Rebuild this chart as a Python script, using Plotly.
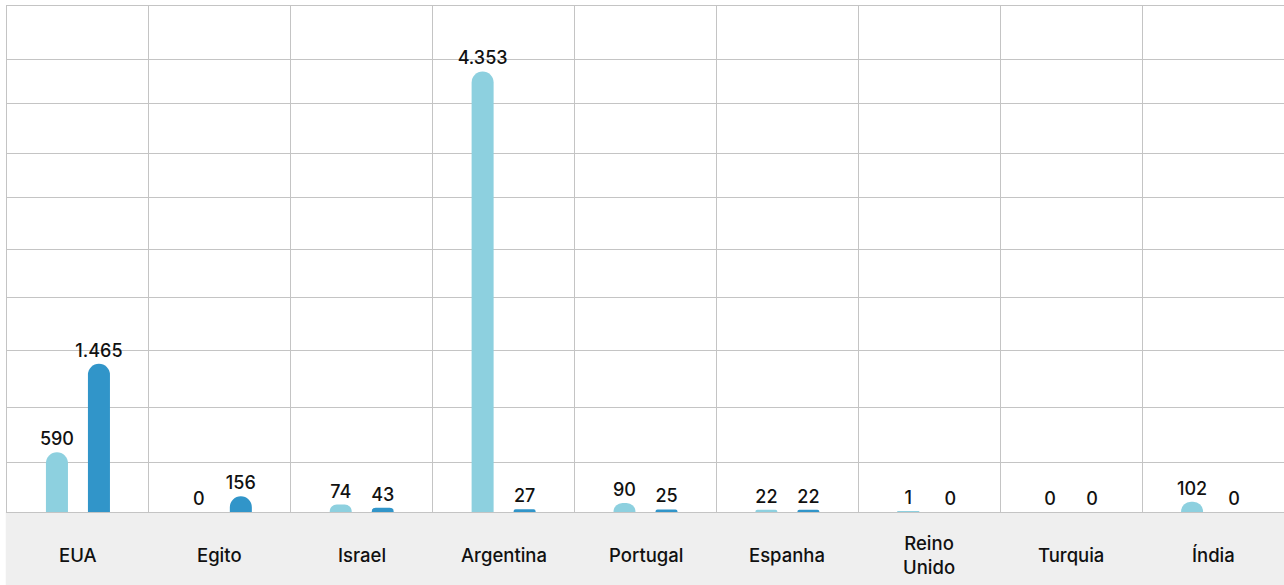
import plotly.graph_objects as go

# ---- data ----
categories = ["EUA", "Egito", "Israel", "Argentina", "Portugal", "Espanha",
              "Reino Unido", "Turquia", "Índia"]
category_labels = ["EUA", "Egito", "Israel", "Argentina", "Portugal", "Espanha",
                   "Reino<br>Unido", "Turquia", "Índia"]
serie_1 = [590, 0, 74, 4353, 90, 22, 1, 0, 102]
serie_2 = [1465, 156, 43, 27, 25, 22, 0, 0, 0]

# ---- styling ----
LIGHT = "#8DD0DF"
DARK = "#3195C9"
GRID = "#c4c4c4"
BAND = "#efefef"
TXT = "#111111"
FONT = "Inter"

y_max = 5000
grid_vals = [494, 1028, 1591, 2115, 2589, 3103, 3538, 4032, 4476]

fig = go.Figure()
for vals, color, name in [(serie_1, LIGHT, "Série 1"), (serie_2, DARK, "Série 2")]:
    fig.add_trace(go.Bar(
        x=categories, y=vals, name=name,
        marker=dict(color=color, cornerradius="50%", line=dict(width=0)),
        texttemplate="%{y:,}", textposition="outside", constraintext="none",
        cliponaxis=False,
        textfont=dict(family=FONT, size=18, color=TXT, weight=500),
        hoverinfo="skip",
    ))

# grey band below the baseline
fig.add_shape(type="rect", xref="paper", yref="paper",
              x0=-0.001, x1=1.0, y0=-73 / 506, y1=0,
              fillcolor=BAND, line=dict(width=0), layer="below")

for cat, lab in zip(categories, category_labels):
    fig.add_annotation(x=cat, xref="x", y=-43 / 506, yref="paper",
                       text=lab, showarrow=False, yanchor="middle",
                       font=dict(family=FONT, size=18.5, color=TXT, weight=500))

fig.update_layout(
    width=1284, height=585,
    margin=dict(l=7, r=0, t=6, b=73),
    plot_bgcolor="white", paper_bgcolor="white",
    showlegend=False, hovermode=False,
    separators=",.",
    barmode="group", bargap=0.408, bargroupgap=0.476,
    font=dict(family=FONT, color=TXT),
)
fig.update_xaxes(type="category", tickson="boundaries", showgrid=True,
                 gridcolor=GRID, gridwidth=1, showticklabels=False, ticks="",
                 showline=True, linecolor=GRID, linewidth=1, mirror=True,
                 zeroline=False, fixedrange=True)
fig.update_yaxes(range=[0, y_max], tickvals=grid_vals, showticklabels=False,
                 showgrid=True, gridcolor=GRID, gridwidth=1, ticks="",
                 showline=True, linecolor=GRID, linewidth=1,
                 zeroline=False, fixedrange=True)

fig.write_html("out.html")
